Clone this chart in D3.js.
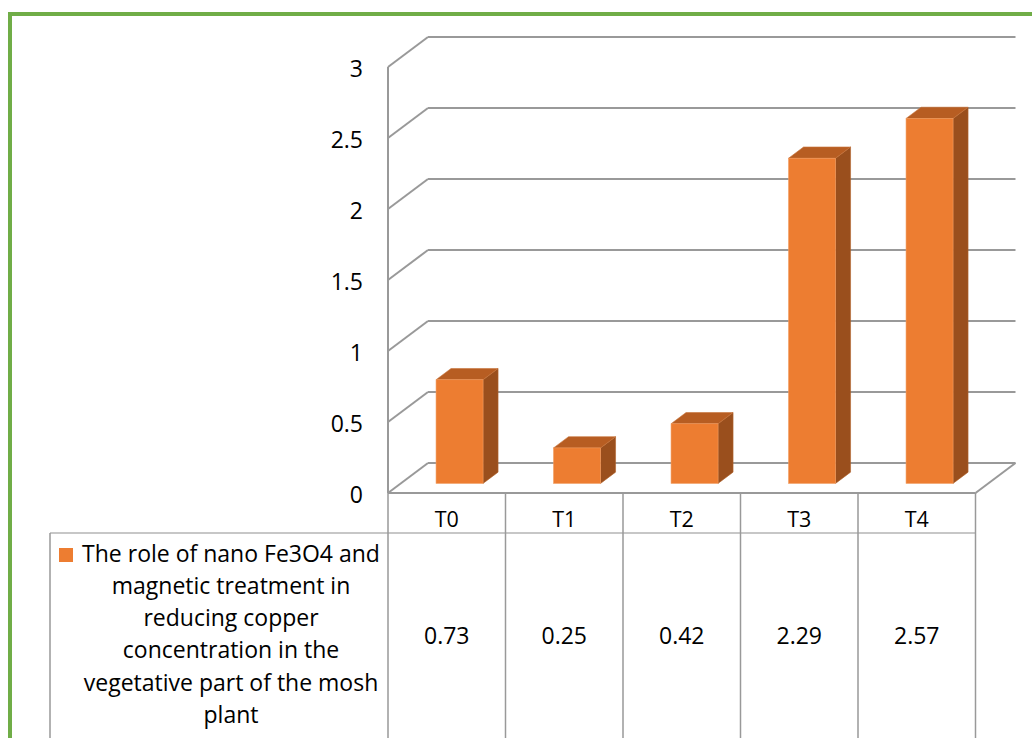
<!DOCTYPE html>
<html><head><meta charset="utf-8">
<script src="https://cdn.jsdelivr.net/npm/d3@7"></script>
<style>
html,body{margin:0;padding:0;background:#fff;}
svg{display:block;}
text{font-family:"Open Sans",Lato,sans-serif;fill:#000;}
</style></head>
<body>
<svg id="chart" width="1032" height="738"></svg>
<script>
const categories = ["T0", "T1", "T2", "T3", "T4"];
const values = [0.73, 0.25, 0.42, 2.29, 2.57];
const yTicks = [0, 0.5, 1, 1.5, 2, 2.5, 3];
const valueLabels = ["0.73", "0.25", "0.42", "2.29", "2.57"];
const seriesLines = [
  "The role of nano Fe3O4 and",
  "magnetic treatment in",
  "reducing copper",
  "concentration in the",
  "vegetative part of the mosh",
  "plant"
];

const svg = d3.select("#chart");
const W = 1032, H = 738;
const FONT = "'Open Sans',Lato,sans-serif";
const FS = 23;
const FS_CAT = 21.5;

// frame
svg.append("path").attr("d", `M10,${H}V14H${W}`).attr("fill","none")
  .attr("stroke","#70ad47").attr("stroke-width",4);

const x = d3.scaleBand().domain(categories).range([388, 975.5]).paddingInner(0).paddingOuter(0);
const y = d3.scaleLinear().domain([0, 3]).range([493, 67]);
const DX = 40, DY = -30;
const gridC = "#999999";
const x0 = x.range()[0], x1 = x.range()[1];

const g = svg.append("g");
yTicks.forEach(t => {
  g.append("line").attr("x1", x0 + DX).attr("x2", x1 + DX)
    .attr("y1", y(t) + DY).attr("y2", y(t) + DY)
    .attr("stroke", gridC).attr("stroke-width", 2);
  g.append("line").attr("x1", x0).attr("x2", x0 + DX)
    .attr("y1", y(t)).attr("y2", y(t) + DY)
    .attr("stroke", gridC).attr("stroke-width", 2);
});
g.append("line").attr("x1", x0).attr("x2", x0).attr("y1", y(3)).attr("y2", y(0))
  .attr("stroke", gridC).attr("stroke-width", 2);
g.append("line").attr("x1", x1).attr("x2", x1 + DX).attr("y1", y(0)).attr("y2", y(0) + DY)
  .attr("stroke", gridC).attr("stroke-width", 2);

// bars
const d0 = 0.32, d1 = 0.695;
const bw = x.bandwidth();
const barW = bw * 0.4;
const bars = g.append("g");
categories.forEach((c, i) => {
  const v = values[i];
  const fx = x(c) + (bw - barW) / 2 + d0 * DX;
  const fyB = y(0) + d0 * DY;
  const fyT = y(v) + d0 * DY;
  const ddx = (d1 - d0) * DX, ddy = (d1 - d0) * DY;
  bars.append("path")
    .attr("d", `M${fx + barW},${fyT}L${fx + barW + ddx},${fyT + ddy}L${fx + barW + ddx},${fyB + ddy}L${fx + barW},${fyB}Z`)
    .attr("fill", "#9a4f1d").attr("stroke", "#b0612a").attr("stroke-width", 0.6);
  bars.append("path")
    .attr("d", `M${fx},${fyT}L${fx + ddx},${fyT + ddy}L${fx + barW + ddx},${fyT + ddy}L${fx + barW},${fyT}Z`)
    .attr("fill", "#b75d22").attr("stroke", "#c8733a").attr("stroke-width", 0.6);
  bars.append("rect").attr("x", fx).attr("y", fyT).attr("width", barW).attr("height", fyB - fyT)
    .attr("fill", "#ed7d31").attr("stroke", "#f19a5e").attr("stroke-width", 0.6);
});

// y tick labels
const yAxis = d3.axisLeft(y).tickValues(yTicks).tickSize(0).tickPadding(0).tickFormat(d3.format("~g"));
const ya = svg.append("g").attr("transform", "translate(363,0)").call(yAxis);
ya.select(".domain").remove();
ya.selectAll("text").attr("font-size", FS).attr("font-family", FONT).attr("fill", "#000")
  .attr("dy", null).attr("y", 9.8);

// data table
const tableC = "#999";
const rowTop = y(0), rowMid = 533, rowBot = H;
const tg = svg.append("g");
tg.append("line").attr("x1", x0).attr("x2", x1).attr("y1", rowTop).attr("y2", rowTop)
  .attr("stroke", gridC).attr("stroke-width", 2);
tg.append("line").attr("x1", 50).attr("x2", x1).attr("y1", rowMid).attr("y2", rowMid)
  .attr("stroke", "#b5b5b5").attr("stroke-width", 1.5);
const bounds = categories.map(c => x(c)).concat([x1]);
bounds.forEach(b => {
  tg.append("line").attr("x1", b).attr("x2", b).attr("y1", rowTop).attr("y2", rowBot)
    .attr("stroke", tableC).attr("stroke-width", 1.5);
});
tg.append("line").attr("x1", 50).attr("x2", 50).attr("y1", rowMid).attr("y2", rowBot)
  .attr("stroke", tableC).attr("stroke-width", 1.5);

categories.forEach((c, i) => {
  tg.append("text").attr("x", x(c) + bw / 2).attr("y", 526.7)
    .attr("text-anchor", "middle").attr("font-size", FS_CAT).text(c);
  tg.append("text").attr("x", x(c) + bw / 2).attr("y", 644)
    .attr("text-anchor", "middle").attr("font-size", FS).text(valueLabels[i]);
});

// legend text
const lt = tg.append("g");
seriesLines.forEach((s, i) => {
  lt.append("text").attr("x", 231).attr("y", 561.7 + i * 32.2)
    .attr("text-anchor", "middle").attr("font-size", FS).text(s);
});
lt.append("rect").attr("x", 59).attr("y", 548).attr("width", 14).attr("height", 14).attr("fill", "#ed7d31");
</script>
</body></html>
